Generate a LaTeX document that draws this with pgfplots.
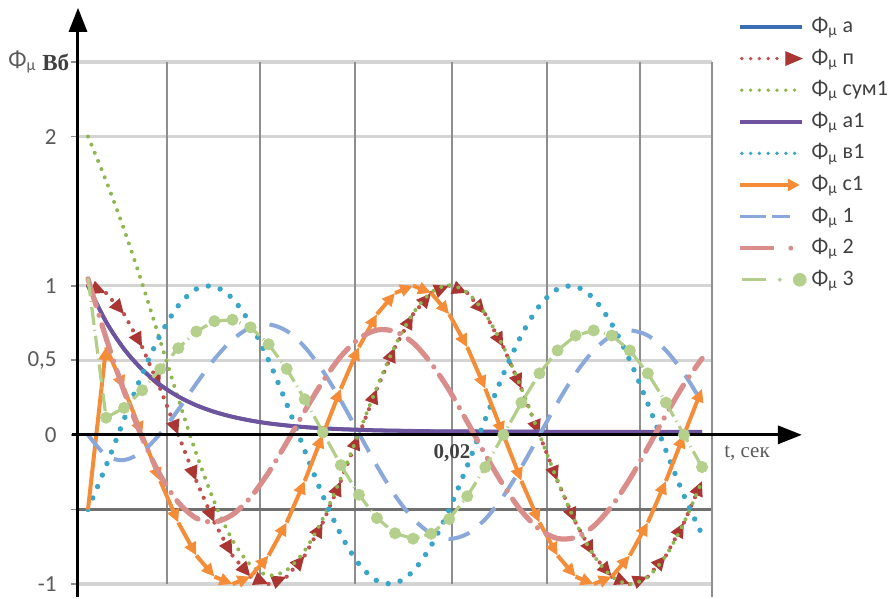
\documentclass[border=0pt]{standalone}
\usepackage{pgfplots}
\pgfplotsset{compat=1.18}
\usepackage{pgfplotstable}
\usetikzlibrary{arrows.meta}
\usepackage{fontspec}
\setmainfont{Carlito}
\newfontfamily\tnr{Liberation Serif}

\definecolor{bluea}{HTML}{3C6EB4}
\definecolor{redp}{HTML}{C0504D}
\definecolor{reddk}{HTML}{AA3633}
\definecolor{greens}{HTML}{8FB650}
\definecolor{purplec}{HTML}{6E549E}
\definecolor{aquac}{HTML}{3BA5C8}
\definecolor{orangec}{HTML}{F48C38}
\definecolor{lblue}{HTML}{8AA8DA}
\definecolor{pinkc}{HTML}{D98E8C}
\definecolor{lgreen}{HTML}{B2CE8A}
\definecolor{lgreenm}{HTML}{B4D08C}
\definecolor{gridlight}{HTML}{D4D4D4}
\definecolor{gridv}{HTML}{8E8E8E}
\definecolor{griddark}{HTML}{707070}
\definecolor{ticklab}{HTML}{5A5A5A}
\definecolor{legtext}{HTML}{404040}

% t in ms
\pgfplotstableread{
t p sum a1 b1 c1 f1 f2 f3
0 1.000 2.000 1.000 -0.500 -0.500 0.000 1.046 1.050
1 0.951 1.704 0.758 -0.208 0.588 -0.139 0.650 0.115
2 0.809 1.376 0.575 0.105 0.309 -0.169 0.291 0.181
3 0.588 1.015 0.438 0.407 0.000 -0.113 -0.019 0.299
4 0.309 0.630 0.335 0.669 -0.309 0.008 -0.271 0.441
5 0.000 0.242 0.257 0.866 -0.588 0.169 -0.453 0.581
6 -0.309 -0.127 0.198 0.978 -0.809 0.344 -0.559 0.693
7 -0.588 -0.451 0.154 0.995 -0.951 0.508 -0.584 0.762
8 -0.809 -0.706 0.121 0.914 -1.000 0.638 -0.535 0.772
9 -0.951 -0.873 0.096 0.743 -0.951 0.720 -0.419 0.721
10 -1.000 -0.942 0.077 0.500 -0.809 0.741 -0.252 0.607
11 -0.951 -0.907 0.063 0.208 -0.588 0.697 -0.052 0.443
12 -0.809 -0.776 0.052 -0.105 -0.309 0.589 0.159 0.239
13 -0.588 -0.563 0.044 -0.407 0.000 0.429 0.358 0.018
14 -0.309 -0.290 0.038 -0.669 0.309 0.230 0.526 -0.203
15 0.000 0.014 0.034 -0.866 0.588 0.010 0.645 -0.402
16 0.309 0.320 0.030 -0.978 0.809 -0.209 0.703 -0.558
17 0.588 0.596 0.028 -0.995 0.951 -0.406 0.693 -0.660
18 0.809 0.815 0.026 -0.914 1.000 -0.562 0.617 -0.696
19 0.951 0.955 0.024 -0.743 0.951 -0.662 0.480 -0.663
20 1.000 1.003 0.023 -0.500 0.809 -0.698 0.299 -0.564
21 0.951 0.954 0.023 -0.208 0.588 -0.664 0.087 -0.412
22 0.809 0.811 0.022 0.105 0.309 -0.565 -0.133 -0.216
23 0.588 0.590 0.021 0.407 0.000 -0.411 -0.338 0.000
24 0.309 0.310 0.021 0.669 -0.309 -0.216 -0.511 0.216
25 0.000 0.001 0.021 0.866 -0.588 0.000 -0.634 0.412
26 -0.309 -0.308 0.020 0.978 -0.809 0.216 -0.695 0.566
27 -0.588 -0.587 0.020 0.995 -0.951 0.412 -0.687 0.666
28 -0.809 -0.808 0.020 0.914 -1.000 0.566 -0.612 0.700
29 -0.951 -0.950 0.020 0.743 -0.951 0.666 -0.477 0.666
30 -1.000 -1.000 0.020 0.500 -0.809 0.700 -0.296 0.566
31 -0.951 -0.951 0.020 0.208 -0.588 0.666 -0.085 0.412
32 -0.809 -0.809 0.020 -0.105 -0.309 0.566 0.134 0.216
33 -0.588 -0.588 0.020 -0.407 0.000 0.412 0.339 0.000
34 -0.309 -0.309 0.020 -0.669 0.309 0.216 0.512 -0.216
}\fluxdata

% segments (point k to point k+1) for the arrow-marked series
\pgfplotstableread{
t p dp c1 dc
0 1.000 -0.049 -0.500 1.088
1 0.951 -0.142 0.588 -0.279
2 0.809 -0.221 0.309 -0.309
3 0.588 -0.279 0.000 -0.309
4 0.309 -0.309 -0.309 -0.279
5 0.000 -0.309 -0.588 -0.221
6 -0.309 -0.279 -0.809 -0.142
7 -0.588 -0.221 -0.951 -0.049
8 -0.809 -0.142 -1.000 0.049
9 -0.951 -0.049 -0.951 0.142
10 -1.000 0.049 -0.809 0.221
11 -0.951 0.142 -0.588 0.279
12 -0.809 0.221 -0.309 0.309
13 -0.588 0.279 0.000 0.309
14 -0.309 0.309 0.309 0.279
15 0.000 0.309 0.588 0.221
16 0.309 0.279 0.809 0.142
17 0.588 0.221 0.951 0.049
18 0.809 0.142 1.000 -0.049
19 0.951 0.049 0.951 -0.142
20 1.000 -0.049 0.809 -0.221
21 0.951 -0.142 0.588 -0.279
22 0.809 -0.221 0.309 -0.309
23 0.588 -0.279 0.000 -0.309
24 0.309 -0.309 -0.309 -0.279
25 0.000 -0.309 -0.588 -0.221
26 -0.309 -0.279 -0.809 -0.142
27 -0.588 -0.221 -0.951 -0.049
28 -0.809 -0.142 -1.000 0.049
29 -0.951 -0.049 -0.951 0.142
30 -1.000 0.049 -0.809 0.221
31 -0.951 0.142 -0.588 0.279
32 -0.809 0.221 -0.309 0.309
33 -0.588 0.279 0.000 0.309
}\segdata

\newcommand{\ph}{Φ\textsubscript{μ}}

\begin{document}
\begin{tikzpicture}
\begin{axis}[
  width=317pt, height=261pt, scale only axis,
  xmin=-0.554, xmax=34.551, ymin=-1, ymax=2.5,
  clip=false,
  axis line style={draw=none},
  xtick=\empty,
  extra x ticks={4.37,9.52,14.78,20.155,25.42,30.57},
  extra x tick labels={},
  extra x tick style={grid=major, major grid style={gridv, line width=1.2pt}, tick style={draw=none}},
  ytick={-1,0,0.5,1,2,2.5},
  yticklabels={-1,0,{0,5},1,2,{}},
  extra y ticks={-0.5},
  extra y tick labels={},
  extra y tick style={grid=major, major grid style={griddark, line width=1.2pt}},
  ymajorgrids,
  major grid style={gridlight, line width=1.6pt},
  ytick pos=left,
  tick align=outside,
  major tick length=3.5pt,
  ytick style={draw=gridv, line width=0.8pt},
  yticklabel style={font=\fontsize{11.5}{13}\selectfont, text=ticklab, anchor=east, inner sep=0pt, xshift=-7pt},
  legend cell align=left,
  legend style={at={(1.041,1.0872)}, anchor=north west, draw=none, fill=none,
    inner sep=0pt, outer sep=0pt, row sep=5.3pt,
    font=\fontsize{11}{13}\selectfont, text=legtext,
    nodes={inner sep=0pt, text height=8pt, text depth=2.5pt},
    /tikz/every odd column/.append style={column sep=2.5pt}},
]
\coordinate (sw) at (rel axis cs:0,0);

% series 1: Phi a (hidden under a1)
\addplot[forget plot, bluea, line width=1.8pt, smooth] table[x=t,y=a1]{\fluxdata};
% series 2: Phi p (dotted segments ending in triangles)
\addplot[forget plot, redp, line width=2.1pt, line cap=round, dash pattern=on 0pt off 4.6pt,
  quiver={u=1, v=\thisrow{dp}}, -{Triangle[length=7.5pt,width=6.5pt,color=reddk]}]
  table[x=t,y=p]{\segdata};
% series 3: sum1
\addplot[forget plot, greens, line width=2pt, line cap=round, dash pattern=on 0pt off 4.4pt, smooth]
  table[x=t,y=sum]{\fluxdata};
% series 4: a1
\addplot[forget plot, purplec, line width=2pt, smooth] table[x=t,y=a1]{\fluxdata};
% series 5: b1
\addplot[forget plot, aquac, line width=2.7pt, line cap=round, dash pattern=on 0pt off 6.2pt, smooth]
  table[x=t,y=b1]{\fluxdata};
% series 6: c1 (segments ending in arrows)
\addplot[forget plot, orangec, line width=2pt,
  quiver={u=1, v=\thisrow{dc}}, -{Triangle[length=6.5pt,width=6pt]}]
  table[x=t,y=c1]{\segdata};
% series 7: Phi 1
\addplot[forget plot, lblue, line width=2pt, dash pattern=on 11pt off 7pt, smooth]
  table[x=t,y=f1]{\fluxdata};
% series 8: Phi 2
\addplot[forget plot, pinkc, line width=2.6pt, line cap=round, dash pattern=on 14pt off 5pt on 0.01pt off 5pt, smooth]
  table[x=t,y=f2]{\fluxdata};
% series 9: Phi 3
\addplot[forget plot, lgreen, line width=1.6pt, dash pattern=on 9pt off 2.5pt on 0.5pt off 2.5pt]
  table[x=t,y=f3]{\fluxdata};
\addplot[forget plot, only marks, mark=*, mark size=2.8pt, mark options={fill=lgreenm, draw=lgreenm},
  skip coords between index={0}{1}]
  table[x=t,y=f3]{\fluxdata};

% legend
\addlegendimage{legend image code/.code={\draw[bluea, line width=1.6pt] (0pt,0pt) -- (31pt,0pt);}}
\addlegendentry{\ph\ а}
\addlegendimage{legend image code/.code={\draw[redp, line width=1.9pt, line cap=round, dash pattern=on 0pt off 4.4pt] (1pt,0pt) -- (22pt,0pt); \fill[reddk] (31pt,0pt) -- (23pt,3.4pt) -- (23pt,-3.4pt) -- cycle;}}
\addlegendentry{\ph\ п}
\addlegendimage{legend image code/.code={\draw[greens, line width=1.9pt, line cap=round, dash pattern=on 0pt off 4.4pt] (1pt,0pt) -- (30pt,0pt);}}
\addlegendentry{\ph\ сум1}
\addlegendimage{legend image code/.code={\draw[purplec, line width=1.8pt] (0pt,0pt) -- (31pt,0pt);}}
\addlegendentry{\ph\ а1}
\addlegendimage{legend image code/.code={\draw[aquac, line width=1.9pt, line cap=round, dash pattern=on 0pt off 4.4pt] (1pt,0pt) -- (30pt,0pt);}}
\addlegendentry{\ph\ в1}
\addlegendimage{legend image code/.code={\draw[orangec, line width=1.6pt, -{Triangle[length=6pt,width=6pt]}] (0pt,0pt) -- (30pt,0pt);}}
\addlegendentry{\ph\ с1}
\addlegendimage{legend image code/.code={\draw[lblue, line width=1.8pt, dash pattern=on 13pt off 3pt] (0pt,0pt) -- (25pt,0pt);}}
\addlegendentry{\ph\ 1}
\addlegendimage{legend image code/.code={\draw[pinkc, line width=1.8pt] (0pt,0pt) -- (17pt,0pt); \fill[pinkc] (25.5pt,0pt) circle (1pt);}}
\addlegendentry{\ph\ 2}
\addlegendimage{legend image code/.code={\draw[lgreen, line width=1.5pt] (1pt,0pt) -- (13pt,0pt); \fill[lgreen] (20pt,0pt) circle (0.8pt); \fill[lgreenm] (30pt,0pt) circle (3.2pt);}}
\addlegendentry{\ph\ 3}

% axes
\draw[gridv, line width=1.2pt] (axis cs:34.551,2.5) -- (axis cs:34.551,-1.087);
\draw[black, line width=1.5pt, -{Triangle[length=12pt,width=9pt]}] (axis cs:-0.554,-1.087) -- (axis cs:-0.554,2.863);
\draw[black, line width=1.5pt, -{Triangle[length=12pt,width=9pt]}] (axis cs:-0.886,0) -- (axis cs:39.53,0);

% labels
\node[anchor=west, inner sep=0pt, text=ticklab, font=\fontsize{12}{13}\selectfont] at (axis cs:-4.43,2.50) {\ph};
\node[anchor=west, inner sep=0pt, text=legtext, font=\tnr\bfseries\fontsize{11.5}{13}\selectfont] at (axis cs:-2.547,2.50) {Вб};
\node[inner sep=0pt, text=legtext, font=\tnr\bfseries\fontsize{10.5}{12}\selectfont] at (axis cs:20.155,-0.121) {0,02};
\node[inner sep=0pt, text=ticklab, font=\tnr\fontsize{10.5}{12}\selectfont] at (axis cs:36.49,-0.121) {t, сек};
\end{axis}
\pgfresetboundingbox
\path[use as bounding box] ([shift={(-39pt,-7.5pt)}]sw) rectangle ([shift={(405.5pt,292pt)}]sw);
\end{tikzpicture}
\end{document}
